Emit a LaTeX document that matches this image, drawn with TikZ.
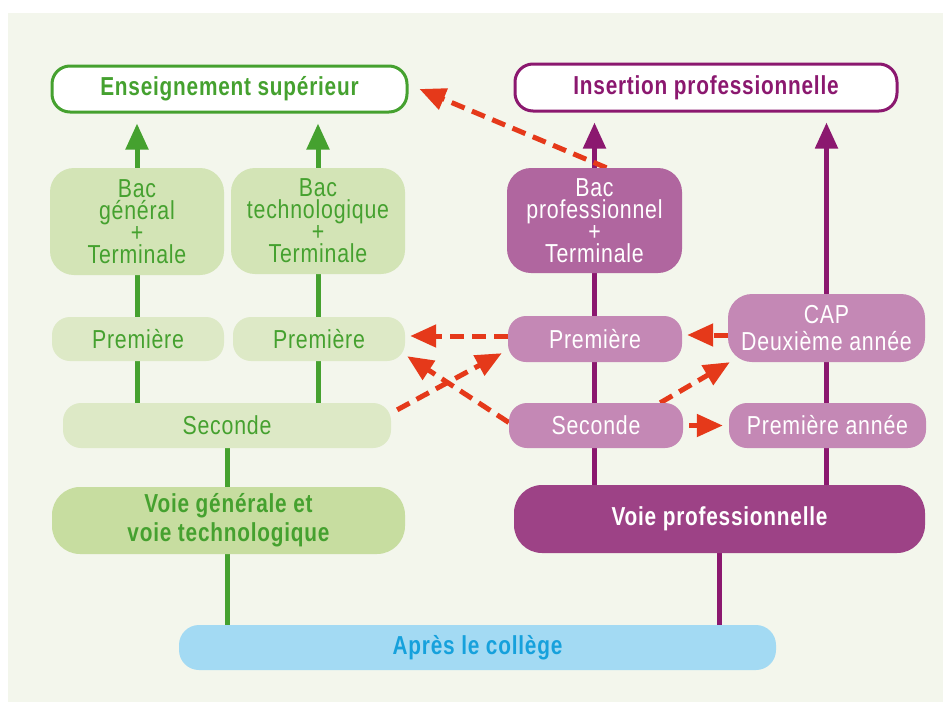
\documentclass[tikz,border=0pt]{standalone}
\usepackage{fontspec}
\setmainfont{Liberation Sans}
\newfontfamily\rfont{Liberation Sans}[FakeStretch=0.82,LetterSpace=3]
\newfontfamily\bfont{Liberation Sans Bold}[FakeStretch=0.8,LetterSpace=3]
\usetikzlibrary{arrows.meta,backgrounds}
\definecolor{bgc}{HTML}{F3F6EC}
\definecolor{gdark}{HTML}{45A12F}
\definecolor{gbac}{HTML}{D3E4B6}
\definecolor{glight}{HTML}{DDE9C6}
\definecolor{gvoie}{HTML}{C7DDA0}
\definecolor{pdark}{HTML}{8B186F}
\definecolor{pbac}{HTML}{B0669F}
\definecolor{plight}{HTML}{C488B5}
\definecolor{pvoie}{HTML}{9D4286}
\definecolor{bfill}{HTML}{A3DAF3}
\definecolor{btext}{HTML}{16A1DC}
\definecolor{redc}{HTML}{E5391A}
\pgfdeclarelayer{bottom}
\pgfdeclarelayer{links}
\pgfsetlayers{bottom,links,main}
\begin{document}
\begin{tikzpicture}[x=1pt,y=-1pt,
  box/.style={rectangle,inner sep=0pt,align=center,font=\rfont\fontsize{26}{22}\selectfont},
  bbox/.style={rectangle,inner sep=0pt,align=center,font=\bfont\fontsize{26}{29}\selectfont},
  topg/.style={bbox,draw=gdark,line width=3pt,fill=white,text=gdark,rounded corners=18pt},
  topp/.style={bbox,draw=pdark,line width=3pt,fill=white,text=pdark,rounded corners=18pt},
  gbacbox/.style={box,fill=gbac,text=gdark,rounded corners=24pt},
  gsmall/.style={box,fill=glight,text=gdark,rounded corners=18pt},
  pbacbox/.style={box,fill=pbac,text=white,rounded corners=24pt},
  psmall/.style={box,fill=plight,text=white,rounded corners=18pt},
  gline/.style={draw=gdark,line width=5pt},
  pline/.style={draw=pdark,line width=5pt},
  uptip/.style={-{Triangle[length=26pt,width=22pt]},shorten >=10pt},
  rarr/.style={draw=redc,line width=5pt,dash pattern=on 14pt off 8pt,-{Triangle[length=26pt,width=22pt]}}
]
\useasboundingbox (0,0) rectangle (943,702);
\begin{pgfonlayer}{bottom}
\fill[bgc] (8,13) rectangle (943,702);
\end{pgfonlayer}

% top boxes
\node[topg,minimum width=355pt,minimum height=46pt] (ens) at (229.5,89) {Enseignement supérieur};
\node[topp,minimum width=382pt,minimum height=47pt] (ins) at (706,87.5) {Insertion professionnelle};

% green side
\node[gbacbox,minimum width=174pt,minimum height=107pt] (bacgen) at (137,221.5) {Bac\\général\\+\\Terminale};
\node[gbacbox,minimum width=174pt,minimum height=106pt] (bactech) at (318,221) {Bac\\technologique\\+\\Terminale};
\node[gsmall,minimum width=172pt,minimum height=44pt] (premg1) at (138,339) {Première};
\node[gsmall,minimum width=172pt,minimum height=44pt] (premg2) at (319,339) {Première};
\node[gsmall,minimum width=328pt,minimum height=45pt] (secgen) at (227,425.5) {Seconde};
\node[bbox,fill=gvoie,text=gdark,rounded corners=28pt,minimum width=353pt,minimum height=67pt] (voieg) at (228.5,520.5) {Voie générale et\\voie technologique};

% purple side
\node[pbacbox,minimum width=175pt,minimum height=105pt] (bacpro) at (594.5,220.5) {Bac\\professionnel\\+\\Terminale};
\node[psmall,minimum width=174pt,minimum height=46pt] (premp) at (595,339) {Première};
\node[psmall,rounded corners=24pt,minimum width=197pt,minimum height=68pt,font=\rfont\fontsize{26}{27}\selectfont] (cap) at (826.5,328) {CAP\\Deuxième année};
\node[psmall,minimum width=174pt,minimum height=45pt] (secp) at (596,425.5) {Seconde};
\node[psmall,minimum width=197pt,minimum height=45pt] (premann) at (827.5,425.5) {Première année};
\node[bbox,fill=pvoie,text=white,rounded corners=28pt,minimum width=411pt,minimum height=68pt] (voiep) at (719.5,519) {Voie professionnelle};

% bottom
\node[bbox,fill=bfill,text=btext,rounded corners=20pt,minimum width=597pt,minimum height=45pt] (apres) at (477.5,647.5) {Après le collège};

\begin{pgfonlayer}{links}
% green verticals
\draw[gline,uptip] (secgen.north -| bacgen) -- (ens.south -| bacgen);
\draw[gline,uptip] (secgen.north -| bactech) -- (ens.south -| bactech);
\draw[gline] (secgen.south) -- (apres.north -| secgen);
% purple verticals
\draw[pline,uptip] (voiep.north -| bacpro) -- (ins.south -| bacpro);
\draw[pline,uptip] (voiep.north -| cap) -- (ins.south -| cap);
\draw[pline] (voiep.south) -- (apres.north -| voiep);
% red dashed arrows
\draw[rarr] ([xshift=12pt]bacpro.north) -- ([xshift=11pt]ens.east);
\draw[rarr] ([yshift=3pt]premp.west) -- ([xshift=5pt,yshift=3pt]premg2.east);
\draw[rarr] ([xshift=6pt,yshift=-7pt]secgen.north east) -- ([xshift=-6pt,yshift=9pt]premp.south west);
\draw[rarr] ([yshift=3pt]secp.west) -- ([xshift=2pt,yshift=5pt]premg2.south east);
\draw[rarr] ([yshift=4pt]cap.west |- premp.east) -- ([xshift=5pt,yshift=4pt]premp.east);
\draw[rarr] ([xshift=-23pt]secp.north east) -- ([xshift=2pt]cap.south west);
\draw[rarr,shorten <=6pt] (secp.east) -- ([xshift=-6pt]premann.west);
\end{pgfonlayer}
\end{tikzpicture}
\end{document}
